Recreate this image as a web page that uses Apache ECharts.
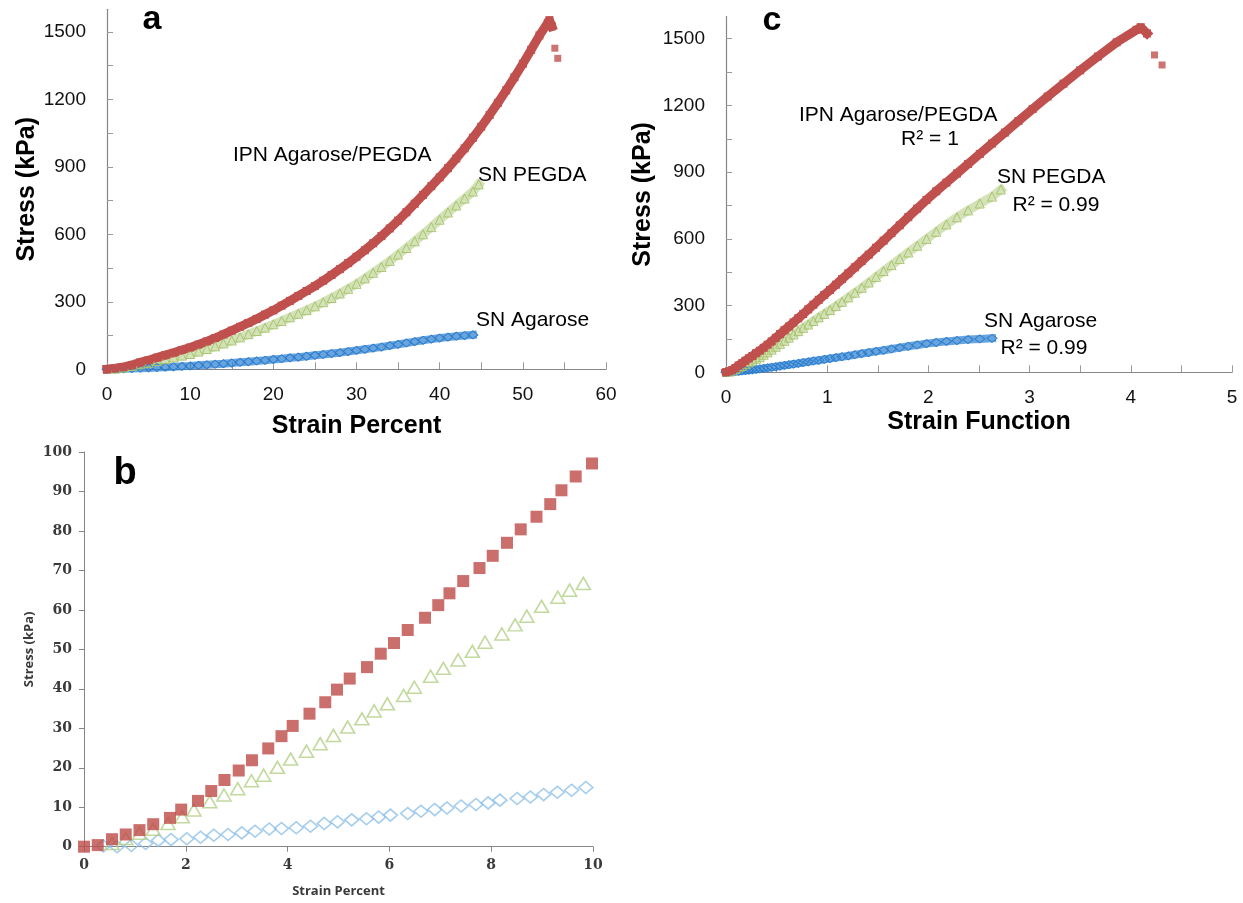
<!DOCTYPE html>
<html>
<head>
<meta charset="utf-8">
<title>Stress vs strain</title>
<script src="https://cdn.jsdelivr.net/npm/echarts@6/dist/echarts.min.js"></script>
<style>
  html, body { margin: 0; padding: 0; background: #fff; }
  #main { width: 1243px; height: 903px; }
</style>
</head>
<body>
<div id="main"></div>
<script>
// ---- panels a and c : one row per 1 % strain ----
var strainPct = [0, 1, 2, 3, 4, 5, 6, 7, 8, 9,
  10, 11, 12, 13, 14, 15, 16, 17, 18, 19,
  20, 21, 22, 23, 24, 25, 26, 27, 28, 29,
  30, 31, 32, 33, 34, 35, 36, 37, 38, 39,
  40, 41, 42, 43, 44, 45, 46, 47, 48, 49,
  50, 51, 52, 53];
// strain function of the same rows (x axis of panel c)
var strainFn = [0, 0.0303, 0.0612, 0.0928, 0.1251, 0.1580, 0.1917, 0.2262, 0.2615, 0.2976,
  0.3346, 0.3725, 0.4113, 0.4512, 0.4921, 0.5341, 0.5772, 0.6216, 0.6672, 0.7142,
  0.7625, 0.8123, 0.8637, 0.9166, 0.9713, 1.0278, 1.0862, 1.1465, 1.2090, 1.2737,
  1.3408, 1.4104, 1.4826, 1.5577, 1.6357, 1.7169, 1.8014, 1.8895, 1.9815, 2.0775,
  2.1778, 2.2827, 2.3927, 2.5079, 2.6288, 2.7558, 2.8894, 3.0300, 3.1782, 3.3347,
  3.5000, 3.6749, 3.8603, 4.0569];

var ipnStress = [0, 4.4, 10, 19.2, 30.9, 40.5, 51.8, 62.8, 73.4, 86,
  97, 110, 124, 139, 155, 172, 189, 206, 224, 243,
  262, 283, 304, 326, 348, 370, 394, 419, 445, 472,
  500, 529, 560, 592, 626, 661, 698, 736, 775, 814,
  853, 894, 937, 982, 1029, 1078, 1130, 1184, 1240, 1298,
  1358, 1420, 1484, 1540];
var ipnPeakPct = [53.2, 53.5];
var ipnPeakFn = [4.098, 4.160];
var ipnPeakStress = [1552, 1524];
var ipnFailPct = [53.85, 54.2];
var ipnFailFn = [4.234, 4.309];
var ipnFailStress = [1427, 1382];

var pegdaStress = [-1, 3.2, 8, 14.5, 22, 28.8, 36.5, 45, 53, 61,
  68, 79, 90, 102, 115, 128, 142, 156, 170, 185,
  200, 215, 231, 247, 263, 280, 298, 317, 337, 358,
  380, 404, 429, 455, 482, 510, 539, 569, 600, 632,
  665, 697, 728, 759, 790];
var pegdaEndPct = [44.7];
var pegdaEndFn = [2.717];
var pegdaEndStress = [822];

var agaroseStress = [0, 0.3, 1.9, 3.4, 4.7, 6.2, 7.9, 9.6, 11.3, 13.2,
  15.2, 17.5, 20, 22.5, 25, 28, 31, 34, 37, 40,
  44, 47, 51, 54, 58, 62, 66, 70, 74, 79,
  84, 89, 94, 99, 105, 111, 117, 123, 129, 134,
  139, 143, 147, 150, 153];

// ---- panel b : first 10 % ----
var ipnPctB = [0, 0.27, 0.55, 0.82, 1.09, 1.36, 1.69, 1.91, 2.24, 2.50, 2.76, 3.04, 3.30, 3.62, 3.88, 4.10, 4.43, 4.74, 4.97,
  5.22, 5.56, 5.83, 6.09, 6.36, 6.70, 6.96, 7.18, 7.45, 7.77, 8.03, 8.31, 8.58, 8.89, 9.16, 9.38, 9.66, 9.98];
var ipnStressB = [0, 0.4, 1.9, 3.1, 4.2, 5.7, 7.3, 9.4, 11.6, 14.1, 16.9, 19.3, 21.9, 24.9, 28.0, 30.6, 33.7, 36.6, 39.8,
  42.6, 45.5, 48.9, 51.6, 54.9, 58.0, 61.2, 64.2, 67.3, 70.6, 73.7, 77.0, 80.4, 83.6, 86.8, 90.3, 93.8, 97.1];
var pegdaPctB = [0, 0.27, 0.55, 0.82, 1.09, 1.36, 1.65, 1.93, 2.16, 2.47, 2.75, 3.02, 3.29, 3.53, 3.80, 4.06, 4.37, 4.64, 4.90,
  5.18, 5.46, 5.70, 5.96, 6.28, 6.49, 6.81, 7.06, 7.35, 7.63, 7.88, 8.21, 8.47, 8.70, 8.99, 9.31, 9.54, 9.81];
var pegdaStressB = [-1.0, -0.4, 0.8, 2.1, 3.4, 4.4, 5.9, 7.6, 9.3, 11.4, 13.1, 14.7, 16.7, 18.1, 20.1, 22.2, 24.2, 26.1, 28.2,
  30.3, 32.4, 34.4, 36.2, 38.3, 40.4, 43.2, 45.2, 47.3, 49.5, 51.8, 53.9, 56.2, 58.4, 60.9, 63.2, 65.0, 66.7];
var agarosePctB = [0.08, 0.38, 0.65, 0.93, 1.21, 1.46, 1.71, 2.02, 2.29, 2.55, 2.83, 3.10, 3.36, 3.64, 3.88, 4.17, 4.45, 4.72, 4.98,
  5.26, 5.55, 5.79, 6.02, 6.36, 6.62, 6.89, 7.13, 7.41, 7.70, 7.94, 8.17, 8.51, 8.77, 9.03, 9.30, 9.58, 9.86];
var agaroseStressB = [-0.4, 0.2, 0.0, 0.3, 0.8, 1.6, 1.8, 2.0, 2.4, 2.9, 3.1, 3.5, 3.9, 4.5, 4.6, 4.8, 5.2, 5.9, 6.3,
  6.8, 7.1, 7.5, 8.0, 8.4, 9.0, 9.4, 9.8, 10.3, 10.7, 11.1, 11.8, 12.2, 12.6, 13.2, 13.8, 14.3, 15.0];

// tick values
var stressLabels = [0, 300, 600, 900, 1200, 1500];
var stressTicks = [0, 150, 300, 450, 600, 750, 900, 1050, 1200, 1350, 1500];
var pctTicks = [0, 5, 10, 15, 20, 25, 30, 35, 40, 45, 50, 55, 60];
var fnTicks = [0, 0.5, 1, 1.5, 2, 2.5, 3, 3.5, 4, 4.5, 5];

var RED = '#C0504D', GREEN = '#9BBB59', BLUE = '#2A7DCF';
var SANS = "'Liberation Sans', Arial, sans-serif";
var SERIF = "'DejaVu Serif', 'Liberation Serif', serif";

function pairs(xs, ys) {
  return ys.map(function (y, i) { return [xs[i], y]; });
}
function plain(v) { return String(v); }

function bigX(grid, max, interval, ticks, name, gap) {
  return {
    gridIndex: grid, type: 'value', min: 0, max: max, interval: interval,
    axisLine: { lineStyle: { color: '#868686', width: 1.2 } },
    axisTick: { inside: true, length: 7, customValues: ticks, lineStyle: { color: '#9a9a9a' } },
    axisLabel: { margin: 16, fontSize: 19, color: '#111', fontFamily: SANS, formatter: plain },
    splitLine: { show: false },
    name: name, nameLocation: 'middle', nameGap: gap,
    nameTextStyle: { fontSize: 25, fontWeight: 'bold', color: '#000', fontFamily: SANS }
  };
}
function bigY(grid, gap) {
  return {
    gridIndex: grid, type: 'value', min: 0, max: 1600, interval: 300,
    axisLine: { show: true, lineStyle: { color: '#868686', width: 1.2 } },
    axisTick: { show: true, inside: true, length: 6, customValues: stressTicks, lineStyle: { color: '#9a9a9a' } },
    axisLabel: { margin: 21, fontSize: 19, color: '#111', fontFamily: SANS, customValues: stressLabels, formatter: plain },
    splitLine: { show: false },
    name: 'Stress (kPa)', nameLocation: 'middle', nameGap: gap,
    nameTextStyle: { fontSize: 25, fontWeight: 'bold', color: '#000', fontFamily: SANS }
  };
}

// dense band = thick line + markers
function band(grid, data, color, bandColor, width, symbol, size, filled) {
  return {
    type: 'line', xAxisIndex: grid, yAxisIndex: grid, data: data,
    showSymbol: true, symbol: symbol, symbolSize: size,
    lineStyle: { color: bandColor, width: width, cap: 'square' },
    itemStyle: filled ? { color: color } : { color: 'none', borderColor: color, borderWidth: 1 },
    z: 2
  };
}

function text(str, x, y, opts) {
  opts = opts || {};
  return {
    type: 'text', x: x, y: y, silent: true,
    style: {
      text: str, fill: '#000',
      font: (opts.weight || 'normal') + ' ' + (opts.size || 21) + 'px ' + (opts.family || SANS),
      textAlign: opts.align || 'left', textVerticalAlign: 'middle'
    }
  };
}

var chart = echarts.init(document.getElementById('main'));
chart.setOption({
  animation: false,
  backgroundColor: '#fff',
  grid: [
    { left: 107, top: 9.3, width: 499, height: 360 },
    { left: 726, top: 16.5, width: 506, height: 355.8 },
    { left: 84, top: 452, width: 509, height: 394.7 }
  ],
  xAxis: [
    bigX(0, 60, 10, pctTicks, 'Strain Percent', 44),
    bigX(1, 5, 1, fnTicks, 'Strain Function', 37),
    {
      gridIndex: 2, type: 'value', min: 0, max: 10, interval: 2,
      axisLine: { lineStyle: { color: '#868686' } },
      axisTick: { length: 5, lineStyle: { color: '#868686' } },
      axisLabel: { margin: 12, fontSize: 14, fontWeight: 'bold', color: '#3a3a3a', fontFamily: SERIF },
      splitLine: { show: false },
      name: 'Strain Percent', nameLocation: 'middle', nameGap: 38,
      nameTextStyle: { fontSize: 13, fontWeight: 'bold', color: '#3a3a3a', fontFamily: "'Open Sans', sans-serif" }
    }
  ],
  yAxis: [
    bigY(0, 62),
    bigY(1, 70),
    {
      gridIndex: 2, type: 'value', min: 0, max: 100, interval: 10,
      axisLine: { show: true, lineStyle: { color: '#868686' } },
      axisTick: { show: true, length: 5, lineStyle: { color: '#868686' } },
      axisLabel: { margin: 12, fontSize: 14, fontWeight: 'bold', color: '#3a3a3a', fontFamily: SERIF },
      splitLine: { show: false },
      name: 'Stress (kPa)', nameLocation: 'middle', nameGap: 48,
      nameTextStyle: { fontSize: 13, fontWeight: 'bold', color: '#3a3a3a', fontFamily: "'Open Sans', sans-serif" }
    }
  ],
  series: [
    // panel a
    band(0, pairs(strainPct, agaroseStress), BLUE, 'rgba(42,125,207,0.7)', 8, 'diamond', [10, 8], false),
    band(0, pairs(strainPct, pegdaStress).concat(pairs(pegdaEndPct, pegdaEndStress)), '#A9C46E', 'rgba(170,198,112,0.5)', 9, 'triangle', 9, false),
    band(0, pairs(strainPct, ipnStress).concat(pairs(ipnPeakPct, ipnPeakStress)), RED, RED, 9, 'rect', 8, true),
    { type: 'scatter', xAxisIndex: 0, yAxisIndex: 0, data: pairs(ipnFailPct, ipnFailStress),
      symbol: 'rect', symbolSize: 7, itemStyle: { color: RED } },
    // panel c
    band(1, pairs(strainFn, agaroseStress), BLUE, 'rgba(42,125,207,0.7)', 8, 'diamond', [10, 8], false),
    band(1, pairs(strainFn, pegdaStress).concat(pairs(pegdaEndFn, pegdaEndStress)), '#A9C46E', 'rgba(170,198,112,0.5)', 9, 'triangle', 9, false),
    band(1, pairs(strainFn, ipnStress).concat(pairs(ipnPeakFn, ipnPeakStress)), RED, RED, 9, 'rect', 8, true),
    { type: 'scatter', xAxisIndex: 1, yAxisIndex: 1, data: pairs(ipnFailFn, ipnFailStress),
      symbol: 'rect', symbolSize: 7, itemStyle: { color: RED } },
    // panel b
    { type: 'scatter', xAxisIndex: 2, yAxisIndex: 2, data: pairs(agarosePctB, agaroseStressB),
      symbol: 'diamond', symbolSize: [14, 12], itemStyle: { color: 'none', borderColor: '#8DC0EA', borderWidth: 1.6 } },
    { type: 'scatter', xAxisIndex: 2, yAxisIndex: 2, data: pairs(pegdaPctB, pegdaStressB),
      symbol: 'triangle', symbolSize: [14, 12], itemStyle: { color: 'none', borderColor: '#B3CF86', borderWidth: 1.6 } },
    { type: 'scatter', xAxisIndex: 2, yAxisIndex: 2, data: pairs(ipnPctB, ipnStressB),
      symbol: 'rect', symbolSize: 12, itemStyle: { color: '#BE4B48' } }
  ],
  graphic: [
    text('a', 152, 20, { weight: 'bold', size: 34, align: 'center' }),
    text('IPN Agarose/PEGDA', 233, 155),
    text('SN PEGDA', 478, 175),
    text('SN Agarose', 476, 320),
    text('c', 772, 21, { weight: 'bold', size: 34, align: 'center' }),
    text('IPN Agarose/PEGDA', 799, 115),
    text('R² = 1', 930, 139, { align: 'center' }),
    text('SN PEGDA', 997, 177),
    text('R² = 0.99', 1056, 205, { align: 'center' }),
    text('SN Agarose', 984, 321),
    text('R² = 0.99', 1044, 348, { align: 'center' }),
    text('b', 125, 474, { weight: 'bold', size: 38, align: 'center' })
  ]
});
</script>
</body>
</html>
